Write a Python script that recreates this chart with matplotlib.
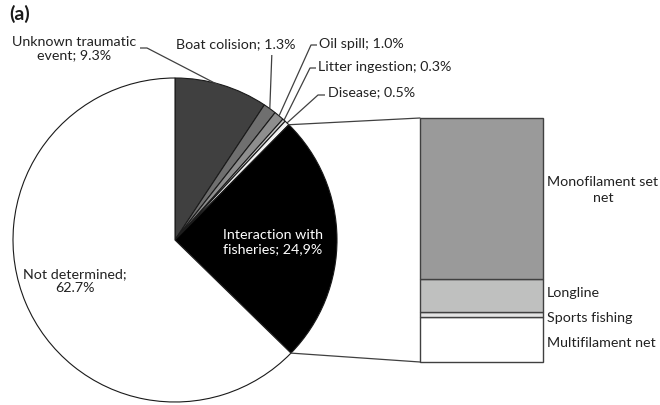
import numpy as np
import matplotlib.pyplot as plt
from matplotlib.patches import ConnectionPatch

plt.rcParams['font.family'] = ['Lato', 'DejaVu Sans']

# causes of stranding (% of all records)
causes = ['Unknown traumatic event', 'Boat colision', 'Oil spill',
          'Litter ingestion', 'Disease', 'Interaction with fisheries',
          'Not determined']
cause_pct = [9.3, 1.3, 1.0, 0.3, 0.5, 24.9, 62.7]
cause_colors = ['#404040', '#6f6f6f', '#8e8e8e', '#c8c8c8', '#f2f2f2',
                '#000000', '#ffffff']

# breakdown of the fisheries slice, bottom to top (% of fisheries cases)
gears = ['Multifilament net', 'Sports fishing', 'Longline',
         'Monofilament set\nnet']
gear_pct = [18.5, 2.0, 13.5, 66.0]
gear_colors = ['#ffffff', '#e4e4e4', '#bfc0bf', '#9a9a9a']

W, H = 660, 406
txt = '#222222'
fs = 10.3


def P(x, y):
    # pixel position (origin top-left) -> axes data coords
    return x, H - y


fig = plt.figure(figsize=(W / 100, H / 100), dpi=100)
ax = fig.add_axes([0, 0, 1, 1])
ax.set_xlim(0, W)
ax.set_ylim(0, H)
ax.axis('off')

cx, cy = P(175, 241)
R = 162
wedges, _ = ax.pie(cause_pct, colors=cause_colors, startangle=90,
                   counterclock=False, center=(cx, cy), radius=R,
                   wedgeprops=dict(edgecolor='#1a1a1a', linewidth=0.8))
ax.set_xlim(0, W)
ax.set_ylim(0, H)
ax.set_aspect('auto')


def edge(i, f=1.0):
    w = wedges[i]
    a = np.deg2rad((w.theta1 + w.theta2) / 2)
    return cx + f * R * np.cos(a), cy + f * R * np.sin(a)


def leader(pts):
    xs, ys = zip(*pts)
    ax.plot(xs, ys, color='#404040', lw=0.9, solid_capstyle='butt')


# outside labels with leader lines
ax.text(*P(74, 49), 'Unknown traumatic\nevent; 9.3%', ha='center',
        va='center', fontsize=fs, color=txt, linespacing=1.1)
leader([P(140, 49), P(147, 49), edge(0, 0.99)])

ax.text(*P(176, 44), 'Boat colision; 1.3%', ha='left', va='center',
        fontsize=fs, color=txt)
ex, ey = edge(1)
leader([(ex + 2, H - 56), (ex, ey)])

ax.text(*P(319, 44), 'Oil spill; 1.0%', ha='left', va='center',
        fontsize=fs, color=txt)
leader([P(317, 46), P(311, 46), edge(2)])

ax.text(*P(318, 67), 'Litter ingestion; 0.3%', ha='left', va='center',
        fontsize=fs, color=txt)
leader([P(316, 69), P(310, 69), edge(3)])

ax.text(*P(328, 92), 'Disease; 0.5%', ha='left', va='center',
        fontsize=fs, color=txt)
leader([P(325, 96), P(318, 96), edge(4)])

# inside labels
ax.text(*P(273, 242), 'Interaction with\nfisheries; 24,9%', ha='center',
        va='center', fontsize=fs, color='white', linespacing=1.25)
ax.text(*P(75, 281), 'Not determined;\n62.7%', ha='center', va='center',
        fontsize=fs, color=txt, linespacing=1.25)

ax.text(*P(9, 14), '(a)', ha='left', va='center', fontsize=14,
        fontweight='bold', color='#1a1a1a')

# stacked bar for the fisheries breakdown
bx0, bx1, by0, by1 = 420, 543, 119, 363
bax = fig.add_axes([bx0 / W, (H - by1) / H, (bx1 - bx0) / W, (by1 - by0) / H])
bottom = 0
for v, c in zip(gear_pct, gear_colors):
    bax.bar(0, v, bottom=bottom, width=1, color=c, edgecolor='#404040',
            linewidth=1, clip_on=False)
    bottom += v
bax.set_xlim(-0.5, 0.5)
bax.set_ylim(0, sum(gear_pct))
bax.axis('off')

# gear labels
label_y = [343, 318, 293, 190]
for g, y in zip(gears, label_y):
    if '\n' in g:
        ax.text(*P(603, y), g, ha='center', va='center', fontsize=fs,
                color=txt, linespacing=1.45)
    else:
        ax.text(*P(547, y), g, ha='left', va='center', fontsize=fs,
                color=txt)

# lines joining the fisheries wedge to the bar
fw = wedges[5]
for ang, yb in [(fw.theta1, 0), (fw.theta2, sum(gear_pct))]:
    a = np.deg2rad(ang)
    p = (cx + R * np.cos(a), cy + R * np.sin(a))
    con = ConnectionPatch(xyA=p, coordsA=ax.transData, xyB=(-0.5, yb),
                          coordsB=bax.transData, color='#404040', lw=0.9)
    fig.add_artist(con)

fig.savefig('out.png', dpi=100, facecolor='white')
